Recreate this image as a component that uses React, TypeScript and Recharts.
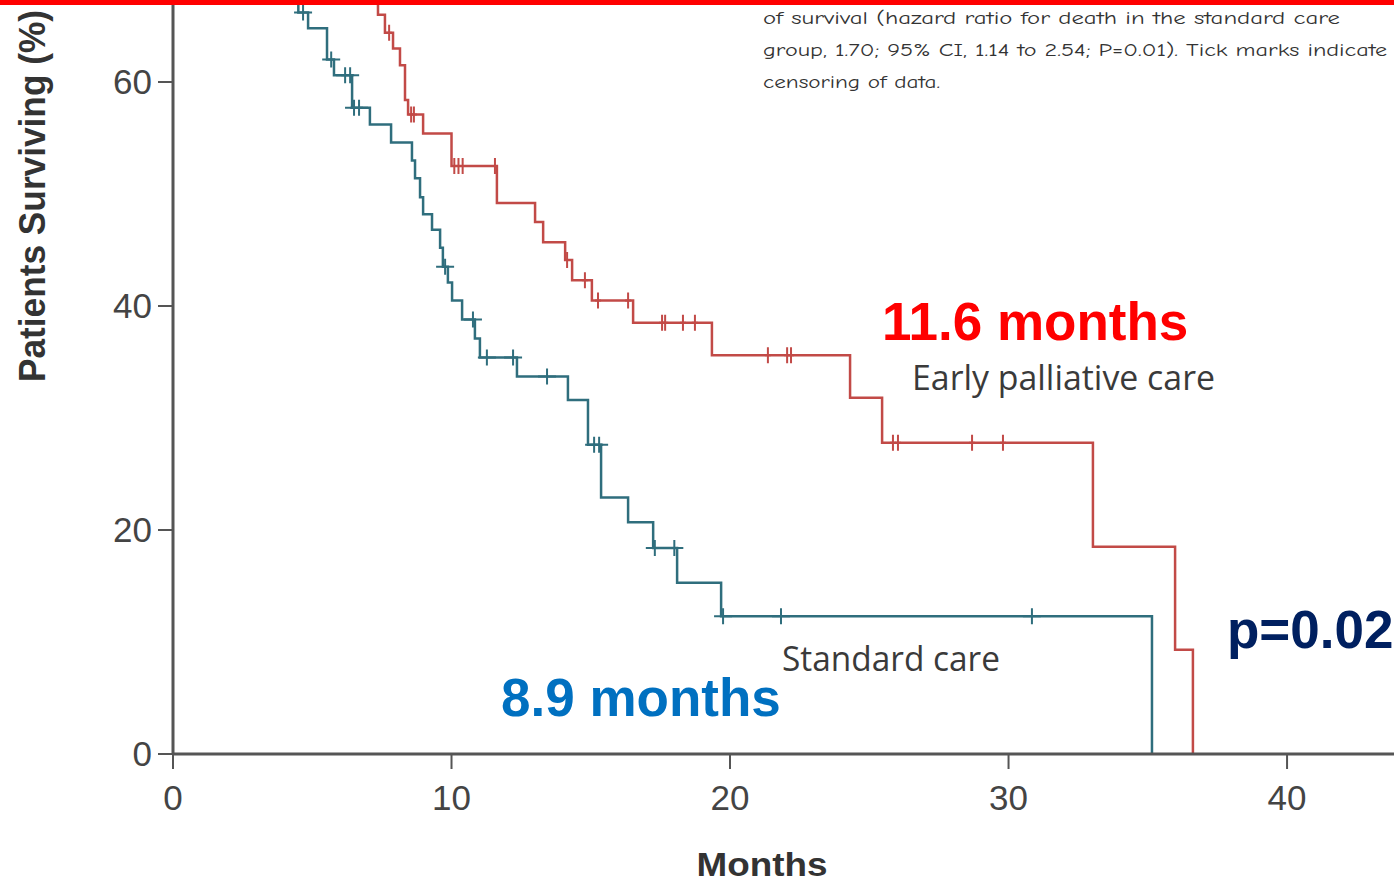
import React from 'react';
import { ComposedChart, Line, Scatter, XAxis, YAxis } from 'recharts';

// Kaplan-Meier steps: time in months, survival in %
const standardTimes = [0, 4.5, 4.85, 5.53, 5.78, 6.43, 7.07, 7.83, 8.58, 8.69, 8.87, 8.98, 9.3, 9.59, 9.69, 9.87, 10.02, 10.38, 10.84, 11.02, 12.35, 14.18, 14.9, 15.37, 16.34, 17.24, 18.1, 19.68, 35.15];
const standardSurv = [100, 66.2, 64.8, 62.0, 60.6, 57.7, 56.2, 54.6, 53.0, 51.4, 49.7, 48.2, 46.8, 45.2, 43.5, 42.1, 40.5, 38.8, 37.1, 35.4, 33.7, 31.6, 27.6, 22.9, 20.7, 18.4, 15.3, 12.3, 0];
const standardCensorTimes = [4.67, 5.68, 6.18, 6.36, 6.5, 6.68, 9.77, 10.77, 11.27, 12.21, 13.43, 15.12, 15.3, 17.3, 18.0, 19.75, 21.83, 30.84];
const standardCensorSurv = [66.2, 62.0, 60.6, 60.6, 57.7, 57.7, 43.5, 38.8, 35.4, 35.4, 33.7, 27.6, 27.6, 18.4, 18.4, 12.3, 12.3, 12.3];

const earlyTimes = [0, 7.36, 7.61, 7.9, 8.15, 8.33, 8.44, 8.98, 10.0, 11.63, 13.0, 13.29, 14.08, 14.33, 15.04, 16.52, 19.35, 24.31, 25.46, 33.03, 35.98, 36.62];
const earlySurv = [100, 66.0, 64.4, 63.0, 61.5, 58.4, 57.1, 55.4, 52.5, 49.2, 47.5, 45.7, 44.1, 42.3, 40.5, 38.5, 35.6, 31.8, 27.8, 18.5, 9.3, 0];
const earlyCensorTimes = [7.76, 8.55, 8.65, 10.1, 10.25, 10.4, 11.56, 14.15, 14.79, 15.26, 16.34, 17.56, 17.67, 18.31, 18.74, 21.36, 22.05, 22.19, 25.85, 26.03, 28.69, 29.8];
const earlyCensorSurv = [64.4, 57.1, 57.1, 52.5, 52.5, 52.5, 52.5, 44.1, 42.3, 40.5, 40.5, 38.5, 38.5, 38.5, 38.5, 35.6, 35.6, 35.6, 27.8, 27.8, 27.8, 27.8];

const xTicks = [0, 10, 20, 30, 40];
const yTicks = [0, 20, 40, 60];

const standardColor = '#2f6e7d';
const earlyColor = '#c24a47';
const axisColor = '#555';

const toRows = (times: number[], surv: number[]) => times.map((t, i) => ({ t, s: surv[i] }));

const standardLine = toRows(standardTimes, standardSurv);
const standardCensor = toRows(standardCensorTimes, standardCensorSurv);
const earlyLine = toRows(earlyTimes, earlySurv);
const earlyCensor = toRows(earlyCensorTimes, earlyCensorSurv);

const censorMark = (color: string, arm: number) => (props: any) => {
  const { cx, cy } = props;
  return (
    <path
      d={`M${cx - arm},${cy}H${cx + arm}M${cx},${cy - 8}V${cy + 8}`}
      stroke={color}
      strokeWidth={2}
      fill="none"
    />
  );
};

const tickFont = { fontFamily: 'Liberation Sans, Arial, sans-serif', fontSize: 35, fill: '#444' };

export default function App() {
  return (
    <div style={{ position: 'absolute', left: 0, top: 0, width: 1394, height: 882, background: '#fff' }}>
      <ComposedChart width={1394} height={882} margin={{ top: 0, right: 0, left: 113, bottom: 68 }}>
        <XAxis
          type="number"
          dataKey="t"
          domain={[0, 43.84]}
          ticks={xTicks}
          allowDataOverflow
          height={60}
          tickSize={15}
          tickMargin={16}
          axisLine={{ stroke: axisColor, strokeWidth: 3 }}
          tickLine={{ stroke: axisColor, strokeWidth: 2 }}
          tick={tickFont}
        />
        <YAxis
          type="number"
          dataKey="s"
          domain={[0, 67.32]}
          ticks={yTicks}
          allowDataOverflow
          width={60}
          tickSize={15}
          tickMargin={6}
          axisLine={{ stroke: axisColor, strokeWidth: 3 }}
          tickLine={{ stroke: axisColor, strokeWidth: 2 }}
          tick={tickFont}
        />
        <Line data={standardLine} dataKey="s" type="stepAfter" stroke={standardColor} strokeWidth={2.5} dot={false} isAnimationActive={false} />
        <Line data={earlyLine} dataKey="s" type="stepAfter" stroke={earlyColor} strokeWidth={2.5} dot={false} isAnimationActive={false} />
        <Scatter data={standardCensor} dataKey="s" shape={censorMark(standardColor, 9)} isAnimationActive={false} />
        <Scatter data={earlyCensor} dataKey="s" shape={censorMark(earlyColor, 3)} isAnimationActive={false} />
      </ComposedChart>

      <svg width={1394} height={882} style={{ position: 'absolute', left: 0, top: 0, pointerEvents: 'none' }}>
        <rect x={0} y={0} width={1394} height={5} fill="#ff0000" />

        <g fontFamily="'Comic Sans MS', 'Comic Neue', cursive" fontSize={19} fill="#333">
          <text x={763} y={24} textLength={577} lengthAdjust="spacingAndGlyphs">of survival (hazard ratio for death in the standard care</text>
          <text x={763} y={56} textLength={624} lengthAdjust="spacingAndGlyphs">group, 1.70; 95% CI, 1.14 to 2.54; P=0.01). Tick marks indicate</text>
          <text x={763} y={88} textLength={177} lengthAdjust="spacingAndGlyphs">censoring of data.</text>
        </g>

        <text
          transform="translate(45,196) rotate(-90)"
          textAnchor="middle"
          fontFamily="'Liberation Sans Narrow', 'Liberation Sans', sans-serif"
          fontWeight="bold"
          fontSize={36}
          fill="#333"
          textLength={372}
          lengthAdjust="spacingAndGlyphs"
        >
          Patients Surviving (%)
        </text>
        <text
          x={762}
          y={876}
          textAnchor="middle"
          fontFamily="'Liberation Sans Narrow', 'Liberation Sans', sans-serif"
          fontWeight="bold"
          fontSize={34}
          fill="#333"
          textLength={131}
          lengthAdjust="spacingAndGlyphs"
        >
          Months
        </text>

        <g fontFamily="'Open Sans', 'Noto Sans', sans-serif" fontSize={34} fill="#3a3a3a">
          <text x={912} y={390} textLength={303} lengthAdjust="spacingAndGlyphs">Early palliative care</text>
          <text x={782} y={671} textLength={218} lengthAdjust="spacingAndGlyphs">Standard care</text>
        </g>

        <g fontFamily="'Liberation Sans', Arial, sans-serif" fontWeight="bold" fontSize={53}>
          <text x={882} y={340} fill="#ff0000">11.6 months</text>
          <text x={501} y={716} fill="#0070c0">8.9 months</text>
          <text x={1227} y={648} fill="#002060">p=0.02</text>
        </g>
      </svg>
    </div>
  );
}
